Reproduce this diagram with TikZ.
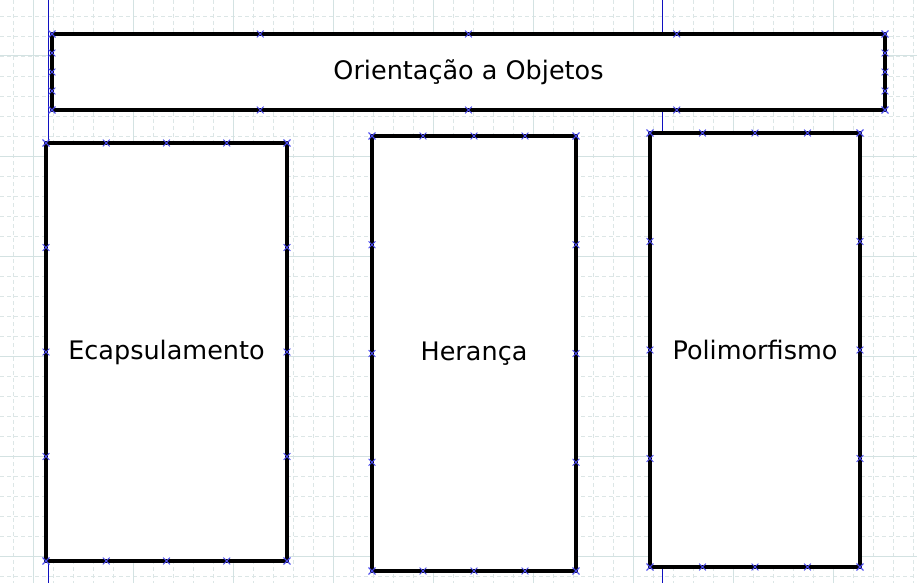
\documentclass[tikz,border=0pt]{standalone}
\usepackage{fontspec}
\setmainfont{DejaVu Sans}
\usetikzlibrary{calc,shapes.misc}
\definecolor{gridmaj}{HTML}{D3E2E2}
\definecolor{gridmin}{HTML}{DCE6E6}
\definecolor{guide}{HTML}{1010C0}
\definecolor{mkcol}{HTML}{4A4AF0}
\tikzset{
  box/.style={draw=black, line width=3.2pt, fill=white, inner sep=0pt, outer sep=0pt,
    font=\fontsize{25.5}{30}\selectfont},
  mk/.style={cross out, draw=mkcol, line width=0.8pt, minimum size=6pt, inner sep=0pt},
  minorgrid/.style={draw=gridmin, line width=0.8pt, dash pattern=on 4pt off 3pt},
  majorgrid/.style={draw=gridmaj, line width=1pt},
  guideline/.style={draw=guide, line width=1pt}
}
\begin{document}
\begin{tikzpicture}[x=1pt,y=-1pt]
\useasboundingbox[fill=white] (0,0) rectangle (917,583);
% grid
\foreach \gx in {13,33,...,913} {\path[minorgrid] (\gx,0) -- (\gx,583);}
\foreach \gy in {16,36,...,576} {\path[minorgrid] (0,\gy) -- (917,\gy);}
\foreach \gx in {33,133,...,833} {\path[majorgrid] (\gx,0) -- (\gx,583);}
\foreach \gy in {56,156,...,556} {\path[majorgrid] (0,\gy) -- (917,\gy);}
% guides
\coordinate (g1a) at (48,0); \coordinate (g1b) at (48,583);
\coordinate (g2a) at (662,0); \coordinate (g2b) at (662,583);
\path[guideline] (g1a) -- (g1b);
\path[guideline] (g2a) -- (g2b);
% boxes
\node[box, minimum width=833pt, minimum height=76pt] (top) at (468.5,72) {Orientação a Objetos};
\node[box, minimum width=241pt, minimum height=418pt] (enc) at (166.5,352) {Ecapsulamento};
\node[box, minimum width=204pt, minimum height=435pt] (her) at (474,353.5) {Herança};
\node[box, minimum width=210pt, minimum height=434pt] (pol) at (755,350) {Polimorfismo};
% connection markers
\foreach \n in {top,enc,her,pol} {
  \foreach \f in {0,0.25,0.5,0.75,1} {
    \node[mk] at ($(\n.north west)!\f!(\n.north east)$) {};
    \node[mk] at ($(\n.south west)!\f!(\n.south east)$) {};
    \node[mk] at ($(\n.north west)!\f!(\n.south west)$) {};
    \node[mk] at ($(\n.north east)!\f!(\n.south east)$) {};
  }
}
\end{tikzpicture}
\end{document}
